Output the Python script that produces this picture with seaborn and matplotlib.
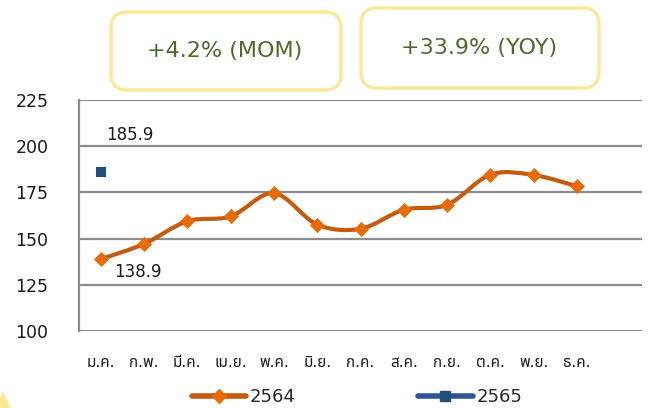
import numpy as np
import pandas as pd
import matplotlib
matplotlib.use("Agg")
import matplotlib.pyplot as plt
import seaborn as sns
from matplotlib import font_manager
from matplotlib.ft2font import FT2Font
from matplotlib.path import Path
from matplotlib.patches import PathPatch, FancyBboxPatch, Polygon
from matplotlib.lines import Line2D

# ---------------- data ----------------
months = ["ม.ค.", "ก.พ.", "มี.ค.", "เม.ย.", "พ.ค.", "มิ.ย.",
          "ก.ค.", "ส.ค.", "ก.ย.", "ต.ค.", "พ.ย.", "ธ.ค."]
values_2564 = [138.9, 147.1, 159.4, 162.0, 174.6, 157.6,
               155.3, 165.6, 168.3, 184.6, 184.4, 178.3]
values_2565 = [185.9]
yticks = [100, 125, 150, 175, 200, 225]
series_names = ["2564", "2565"]
box_texts = ["+4.2% (MOM)", "+33.9% (YOY)"]

# ---------------- fonts ----------------
def find_thai_font():
    found = []
    seen = set()
    for f in font_manager.fontManager.ttflist:
        if f.fname in seen:
            continue
        seen.add(f.fname)
        try:
            cm = FT2Font(f.fname).get_charmap()
        except Exception:
            continue
        if 0x0E21 in cm and 0x0E04 in cm and 0x0E22 in cm:
            found.append(f.name)
    pref = ["Noto Sans Thai", "Noto Sans Thai UI", "Loma", "Garuda", "Sarabun",
            "Kanit", "Tlwg Typo", "Norasi"]
    for p in pref:
        if p in found:
            return p
    return found[0] if found else None

sns.set_theme(style="white")
thai = find_thai_font()
fam = ["DejaVu Sans"] + ([thai] if thai else [])
plt.rcParams["font.family"] = fam

W, H = 649, 408
fig = plt.figure(figsize=(W / 100, H / 100), dpi=100)
fig.patch.set_facecolor("white")

# axes placement in pixels
L, R, T, B = 79, 642, 100, 331
ax = fig.add_axes([L / W, 1 - B / H, (R - L) / W, (B - T) / H])
ax.set_facecolor("white")

x = np.arange(len(months))
ax.set_xlim(-0.5, 12.5)
ax.set_ylim(100, 225)

# grid lines
grid_c = "#8C8C8C"
for yv in yticks:
    ax.axhline(yv, color=grid_c, lw=1.6 if yv != 100 else 2.2, zorder=1)
for s in ["top", "right", "bottom"]:
    ax.spines[s].set_visible(False)
ax.spines["left"].set_color(grid_c)
ax.spines["left"].set_linewidth(1.6)

# smoothed line (Catmull-Rom -> Bezier, like Excel smoothed lines)
pts = np.column_stack([x, values_2564]).astype(float)
verts = [tuple(pts[0])]
codes = [Path.MOVETO]
n = len(pts)
for i in range(n - 1):
    p0 = pts[max(i - 1, 0)]
    p1 = pts[i]
    p2 = pts[i + 1]
    p3 = pts[min(i + 2, n - 1)]
    c1 = p1 + (p2 - p0) / 6.0
    c2 = p2 - (p3 - p1) / 6.0
    verts += [tuple(c1), tuple(c2), tuple(p2)]
    codes += [Path.CURVE4] * 3
line_c = "#C55A11"
mark_c = "#E46C0A"
ax.add_patch(PathPatch(Path(verts, codes), facecolor="none", edgecolor=line_c,
                       lw=3.0, capstyle="round", joinstyle="round", zorder=3))

df1 = pd.DataFrame({"m": x, "v": values_2564})
sns.scatterplot(data=df1, x="m", y="v", marker="D", s=52, color=mark_c,
                edgecolor=mark_c, linewidth=0.5, ax=ax, zorder=4, legend=False)
df2 = pd.DataFrame({"m": x[:len(values_2565)], "v": values_2565})
sns.scatterplot(data=df2, x="m", y="v", marker="s", s=52, color="#1F4E79",
                edgecolor="#1F4E79", linewidth=0, ax=ax, zorder=4, legend=False)

# data labels
ax.annotate(f"{values_2565[0]:.1f}", (0, values_2565[0]), xytext=(21, 27),
            textcoords="offset points", ha="center", va="center",
            fontsize=12, color="#1a1a1a")
ax.annotate(f"{values_2564[0]:.1f}", (0, values_2564[0]), xytext=(27, -9.5),
            textcoords="offset points", ha="center", va="center",
            fontsize=12, color="#1a1a1a")

# ticks
ax.set_yticks(yticks)
ax.set_yticklabels([str(v) for v in yticks], fontsize=12.5, color="#1a1a1a")
ax.set_xticks(x)
ax.set_xticklabels(months, fontsize=11, color="#1a1a1a")
ax.tick_params(axis="y", length=0, pad=22)
ax.tick_params(axis="x", length=0, pad=17)
ax.set_xlabel("")
ax.set_ylabel("")

# legend
handles = [
    Line2D([0], [0], color=line_c, lw=4, solid_capstyle="round",
           marker="D", markersize=7, markerfacecolor=mark_c, markeredgecolor=mark_c),
    Line2D([0], [0], color="#2F5597", lw=4, solid_capstyle="round",
           marker="s", markersize=7, markerfacecolor="#1F4E79", markeredgecolor="#1F4E79"),
]
fig.legend(handles, series_names, loc="center", bbox_to_anchor=(357 / W, 1 - 397 / H),
           ncol=2, frameon=False, fontsize=13, handlelength=3.0,
           handletextpad=0.2, columnspacing=6.8, borderpad=0)

# header boxes
def box(x0, y0, x1, y1, text, tx, ty):
    p = FancyBboxPatch((x0 / W, 1 - y1 / H), (x1 - x0) / W, (y1 - y0) / H,
                       boxstyle="round,pad=0,rounding_size=0.025",
                       transform=fig.transFigure, facecolor="white",
                       edgecolor="#FFE699", lw=2.4, mutation_aspect=W / H)
    fig.patches.append(p)
    fig.text(tx / W, 1 - ty / H, text, ha="center", va="center",
             fontsize=16, color="#4A6B2A")

box(111, 12, 341, 90, box_texts[0], 225, 51)
box(361, 8, 599, 88, box_texts[1], 479, 48)

# decorative corner shape
corner = Polygon([(0 / W, 0), (0 / W, 1 - 398 / H), (3 / W, 1 - 391 / H), (11 / W, 0)],
                 closed=True, transform=fig.transFigure, facecolor="#FFE699",
                 edgecolor="none")
fig.patches.append(corner)

fig.savefig("out.png", dpi=100, facecolor="white")
